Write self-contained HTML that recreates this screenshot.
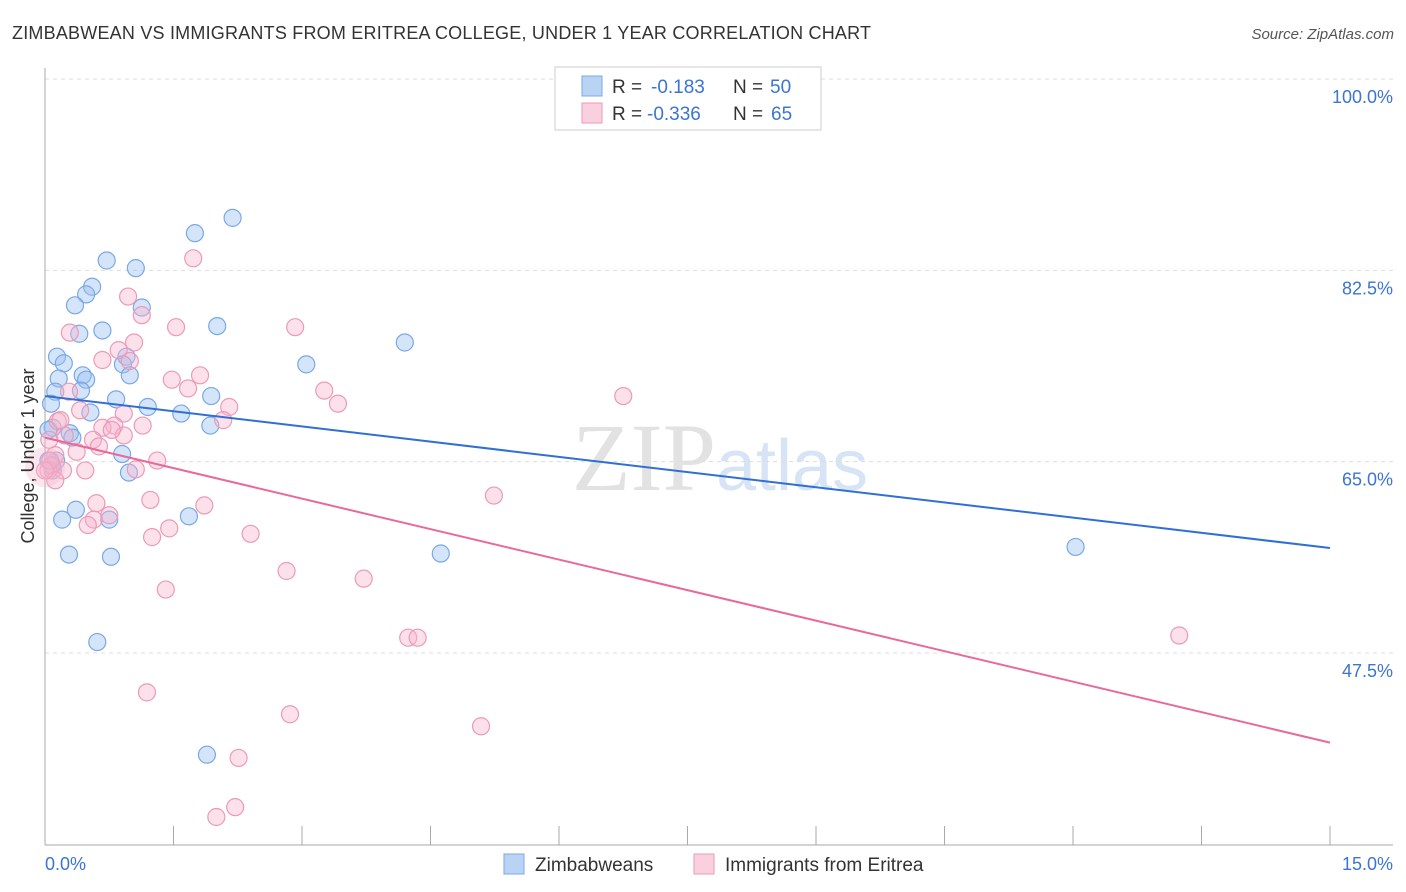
<!DOCTYPE html>
<html><head><meta charset="utf-8"><style>
body{margin:0;background:#fff;font-family:"Liberation Sans",sans-serif;}
svg{display:block}
</style></head><body>
<svg id="chart" width="1406" height="892">
<text x="12" y="39" font-size="18" fill="#333" textLength="859" lengthAdjust="spacing">ZIMBABWEAN VS IMMIGRANTS FROM ERITREA COLLEGE, UNDER 1 YEAR CORRELATION CHART</text>
<text x="1394" y="39" font-size="15" fill="#555" font-style="italic" text-anchor="end">Source: ZipAtlas.com</text>
<text x="720" y="490" font-size="96" fill="#e2e2e2" text-anchor="middle" font-family="Liberation Serif,serif">ZIP<tspan fill="#d6e4f6" font-family="Liberation Sans,sans-serif" font-size="72">atlas</tspan></text>
<g id="grid"></g>
<g id="axes"></g>
<g id="points"></g>
<g id="lines"></g>
<text transform="translate(34,456) rotate(-90)" font-size="18" fill="#333" text-anchor="middle">College, Under 1 year</text>
<g>
<rect x="555" y="67" width="266" height="63" fill="#fff" stroke="#ccc"/>
<rect x="582" y="76" width="20" height="20" fill="#b9d3f5" stroke="#7aa8e6"/>
<text x="612" y="93" font-size="19" fill="#333">R =</text>
<text x="651" y="93" font-size="19" fill="#3b74d4">-0.183</text>
<text x="733" y="93" font-size="19" fill="#333">N =</text>
<text x="770" y="93" font-size="19" fill="#3b74d4">50</text>
<rect x="582" y="103" width="20" height="20" fill="#fbd0de" stroke="#ec9ab6"/>
<text x="612" y="120" font-size="19" fill="#333">R =</text>
<text x="647" y="120" font-size="19" fill="#3b74d4">-0.336</text>
<text x="733" y="120" font-size="19" fill="#333">N =</text>
<text x="771" y="120" font-size="19" fill="#3b74d4">65</text>
</g>
<g>
<rect x="504" y="854" width="20" height="20" fill="#b9d3f5" stroke="#7aa8e6"/>
<text x="535" y="871" font-size="19" fill="#333">Zimbabweans</text>
<rect x="694" y="854" width="20" height="20" fill="#fbd0de" stroke="#ec9ab6"/>
<text x="725" y="871" font-size="19" fill="#333">Immigrants from Eritrea</text>
</g>
</svg>
<script>
const yTicks=[100,82.5,65,47.5];
const yTickLabels=["100.0%","82.5%","65.0%","47.5%"];
const xTickCount=10;
const xLabels=["0.0%","15.0%"];
const blueX=[2.19,1.75,0.72,1.06,0.55,0.48,0.35,1.13,2.01,0.67,0.40,4.20,0.95,0.14,0.22,0.91,3.05,0.99,0.44,0.48,0.16,0.42,0.12,0.83,1.94,1.20,0.07,1.59,0.53,1.93,0.29,0.09,0.32,0.90,0.13,0.98,0.09,0.36,0.20,1.68,0.75,0.28,0.77,4.62,12.03,0.61,1.89,0.04,0.08,0.04];
const blueY=[87.3,85.9,83.4,82.7,81.0,80.3,79.3,79.1,77.4,77.0,76.7,75.9,74.6,74.6,74.0,73.9,73.9,72.9,72.9,72.5,72.6,71.5,71.4,70.7,71.0,70.0,70.3,69.4,69.5,68.3,67.6,68.1,67.2,65.7,65.1,64.0,64.2,60.6,59.7,60.0,59.7,56.5,56.3,56.6,57.2,48.5,38.2,67.9,64.7,65.1];
const pinkX=[1.73,0.97,1.13,0.29,1.53,2.92,1.04,0.86,0.67,0.99,1.81,1.48,1.67,3.26,0.28,6.75,3.42,2.15,0.92,0.41,2.08,0.15,1.14,0.81,0.67,0.23,0.92,0.56,0.05,0.37,0.63,0.12,1.31,1.06,0.21,0.08,5.24,1.23,0.60,1.86,0.75,0.57,0.50,1.45,1.25,2.40,2.82,3.72,1.41,4.24,4.35,13.24,1.19,2.86,5.09,2.26,2.22,2.00,0.04,0.06,0.12,0.18,0.78,0.47,0.0];
const pinkY=[83.6,80.1,78.4,76.8,77.3,77.3,75.9,75.2,74.3,74.2,72.9,72.5,71.7,71.5,71.4,71.0,70.3,70.0,69.4,69.7,68.8,68.7,68.3,68.3,68.1,67.4,67.4,67.0,67.0,65.9,66.4,65.6,65.1,64.3,64.2,64.6,61.9,61.5,61.2,61.0,60.1,59.7,59.2,58.9,58.1,58.4,55.0,54.3,53.3,48.9,48.9,49.1,43.9,41.9,40.8,37.9,33.4,32.5,64.2,65.1,63.3,68.8,67.9,64.2,64.2];
const blueTrend=[71.0,57.1];
const pinkTrend=[67.2,39.3];

const NS="http://www.w3.org/2000/svg";
const X0=45,X1=1330,Y100=79,Y47=653;
const sx=v=>X0+(X1-X0)*v/15;
const sy=v=>Y100+(100-v)*(Y47-Y100)/52.5;
function mk(t,a,p){const e=document.createElementNS(NS,t);for(const k in a)e.setAttribute(k,a[k]);p.appendChild(e);return e;}
const grid=document.getElementById('grid'),axes=document.getElementById('axes');
yTicks.forEach((v,i)=>{
 const l=mk('line',{x1:X0,x2:1393,y1:sy(v),y2:sy(v),stroke:'#ddd','stroke-dasharray':'4,4'},grid);
 
 
 const t=mk('text',{x:1393,y:sy(v)+24,'font-size':18,fill:'#3b74d4','text-anchor':'end'},axes);
 t.textContent=yTickLabels[i];
 
 
});
const ya=mk('line',{x1:X0,x2:X0,y1:68,y2:845,stroke:'#aaa'},axes);


const xa=mk('line',{x1:X0,x2:1393,y1:845,y2:845,stroke:'#aaa'},axes);


for(let i=1;i<=xTickCount;i++){
 const v=15*i/xTickCount;
 const tk=mk('line',{x1:sx(v),x2:sx(v),y1:826,y2:845,stroke:'#aaa'},axes);
 
 
}
const xl0=mk('text',{x:45,y:870,'font-size':18,fill:'#3b74d4'},axes);
xl0.textContent=xLabels[0];


const xl1=mk('text',{x:1393,y:870,'font-size':18,fill:'#3b74d4','text-anchor':'end'},axes);
xl1.textContent=xLabels[1];


const pts=document.getElementById('points');
blueX.forEach((x,i)=>{
 const c=mk('circle',{cx:sx(x),cy:sy(blueY[i]),r:8.5,fill:'rgba(150,190,240,0.4)',stroke:'#7aa8e6','stroke-width':1.2},pts);
 
 
});
pinkX.forEach((x,i)=>{
 const c=mk('circle',{cx:sx(x),cy:sy(pinkY[i]),r:8.5,fill:'rgba(248,180,204,0.4)',stroke:'#ec9ab6','stroke-width':1.2},pts);
 
 
});
const big=mk('circle',{cx:sx(0),cy:sy(64.5),r:20,fill:'rgba(248,180,204,0.35)',stroke:'none'},pts);


const lg=document.getElementById('lines');
const bl=mk('line',{x1:sx(0),y1:sy(blueTrend[0]),x2:sx(15),y2:sy(blueTrend[1]),stroke:'#2f6fd6','stroke-width':2},lg);


const pl=mk('line',{x1:sx(0),y1:sy(pinkTrend[0]),x2:sx(15),y2:sy(pinkTrend[1]),stroke:'#e8699a','stroke-width':2},lg);


</script>
</body></html>
